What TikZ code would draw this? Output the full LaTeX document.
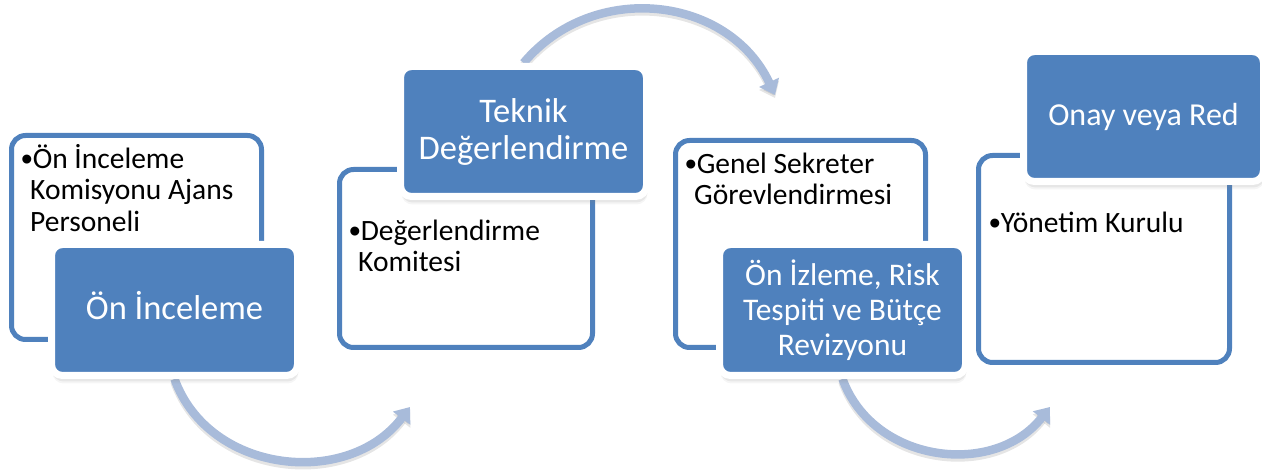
\documentclass[tikz,border=0pt]{standalone}
\usepackage{fontspec}
\setmainfont{Carlito}
\newfontfamily\bulletfont{Liberation Sans}
\usetikzlibrary{arrows.meta,shadows,backgrounds}
\definecolor{boxblue}{RGB}{79,129,189}
\definecolor{flowblue}{RGB}{168,187,218}
\newcommand{\itembullet}{\rule{0pt}{26pt}\raisebox{-2pt}{\bulletfont\fontsize{33}{33}\selectfont\textbullet}}
\newcommand{\itemgap}{\hspace*{9pt}}

\begin{document}
\begin{tikzpicture}[x=1pt,y=1pt,
    outer box/.style={draw=boxblue,line width=5pt,rounded corners=14pt,fill=white,inner sep=0pt},
    stage/.style={fill=boxblue,draw=white,line width=7pt,rounded corners=11pt,text=white,align=center,inner sep=0pt,
      font=\fontsize{34.5}{37}\selectfont,
      drop shadow={opacity=.08,shadow xshift=1pt,shadow yshift=-8pt},
      drop shadow={opacity=.12,shadow xshift=1pt,shadow yshift=-6pt}},
    item/.style={anchor=north west,inner sep=0pt,align=left,font=\fontsize{29.5}{31.5}\selectfont},
    flow/.style={draw=flowblue,line width=8.5pt,-{Triangle[length=14pt,width=21pt]},looseness=1.1},
    flow shadow/.style={draw=black,opacity=.1,line width=8.5pt,-{Triangle[length=14pt,width=21pt]},looseness=1.1}]

  \useasboundingbox (0,0) rectangle (1262,471);

  % outlined boxes
  \node[outer box,minimum width=250pt,minimum height=204pt] (w1) at (136.5,233.5) {};
  \node[outer box,minimum width=253pt,minimum height=178pt] (w2) at (466,212.5) {};
  \node[outer box,minimum width=250pt,minimum height=207pt] (w3) at (800.5,227) {};
  \node[outer box,minimum width=251pt,minimum height=207pt] (w4) at (1104,212) {};

  \node[item] (l1) at (21,329) {\itembullet Ön İnceleme\\\itemgap Komisyonu Ajans\\\itemgap Personeli};
  \node[item] (l2) at (349,257) {\itembullet Değerlendirme\\\itemgap Komitesi};
  \node[item] (l3) at (685,324) {\itembullet Genel Sekreter\\\itemgap Görevlendirmesi};
  \node[item] (l4) at (989,265) {\itembullet Yönetim Kurulu};

  % stages
  \node[stage,minimum width=246pt,minimum height=131pt,text depth=10pt] (b1) at (174.5,161) {Ön İnceleme};
  \node[stage,minimum width=246pt,minimum height=130pt] (b2) at (523.5,339.5) {Teknik\\Değerlendirme};
  \node[stage,minimum width=246pt,minimum height=131pt,font=\fontsize{31.5}{35}\selectfont] (b3) at (842.5,161) {Ön İzleme, Risk\\Tespiti ve Bütçe\\Revizyonu};
  \node[stage,minimum width=240pt,minimum height=130pt,font=\fontsize{32}{36}\selectfont] (b4) at (1143.5,354.5) {Onay veya Red};

  \coordinate (a1) at (410,64);
  \coordinate (a2) at (775,376);
  \coordinate (a3) at (1050,64);

  \begin{pgfonlayer}{background}
  \draw[flow shadow] ([yshift=-3pt]b1.south) to[out=290,in=233] ([yshift=-3pt]a1);
  \draw[flow shadow] ([yshift=-3pt]b2.north) to[out=50,in=115] ([yshift=-3pt]a2);
  \draw[flow shadow] ([yshift=-3pt]b3.south) to[out=290,in=232] ([yshift=-3pt]a3);
  \draw[flow] (b1.south) to[out=290,in=233] (a1);
  \draw[flow] (b2.north) to[out=50,in=115] (a2);
  \draw[flow] (b3.south) to[out=290,in=232] (a3);
  \end{pgfonlayer}

\end{tikzpicture}
\end{document}
